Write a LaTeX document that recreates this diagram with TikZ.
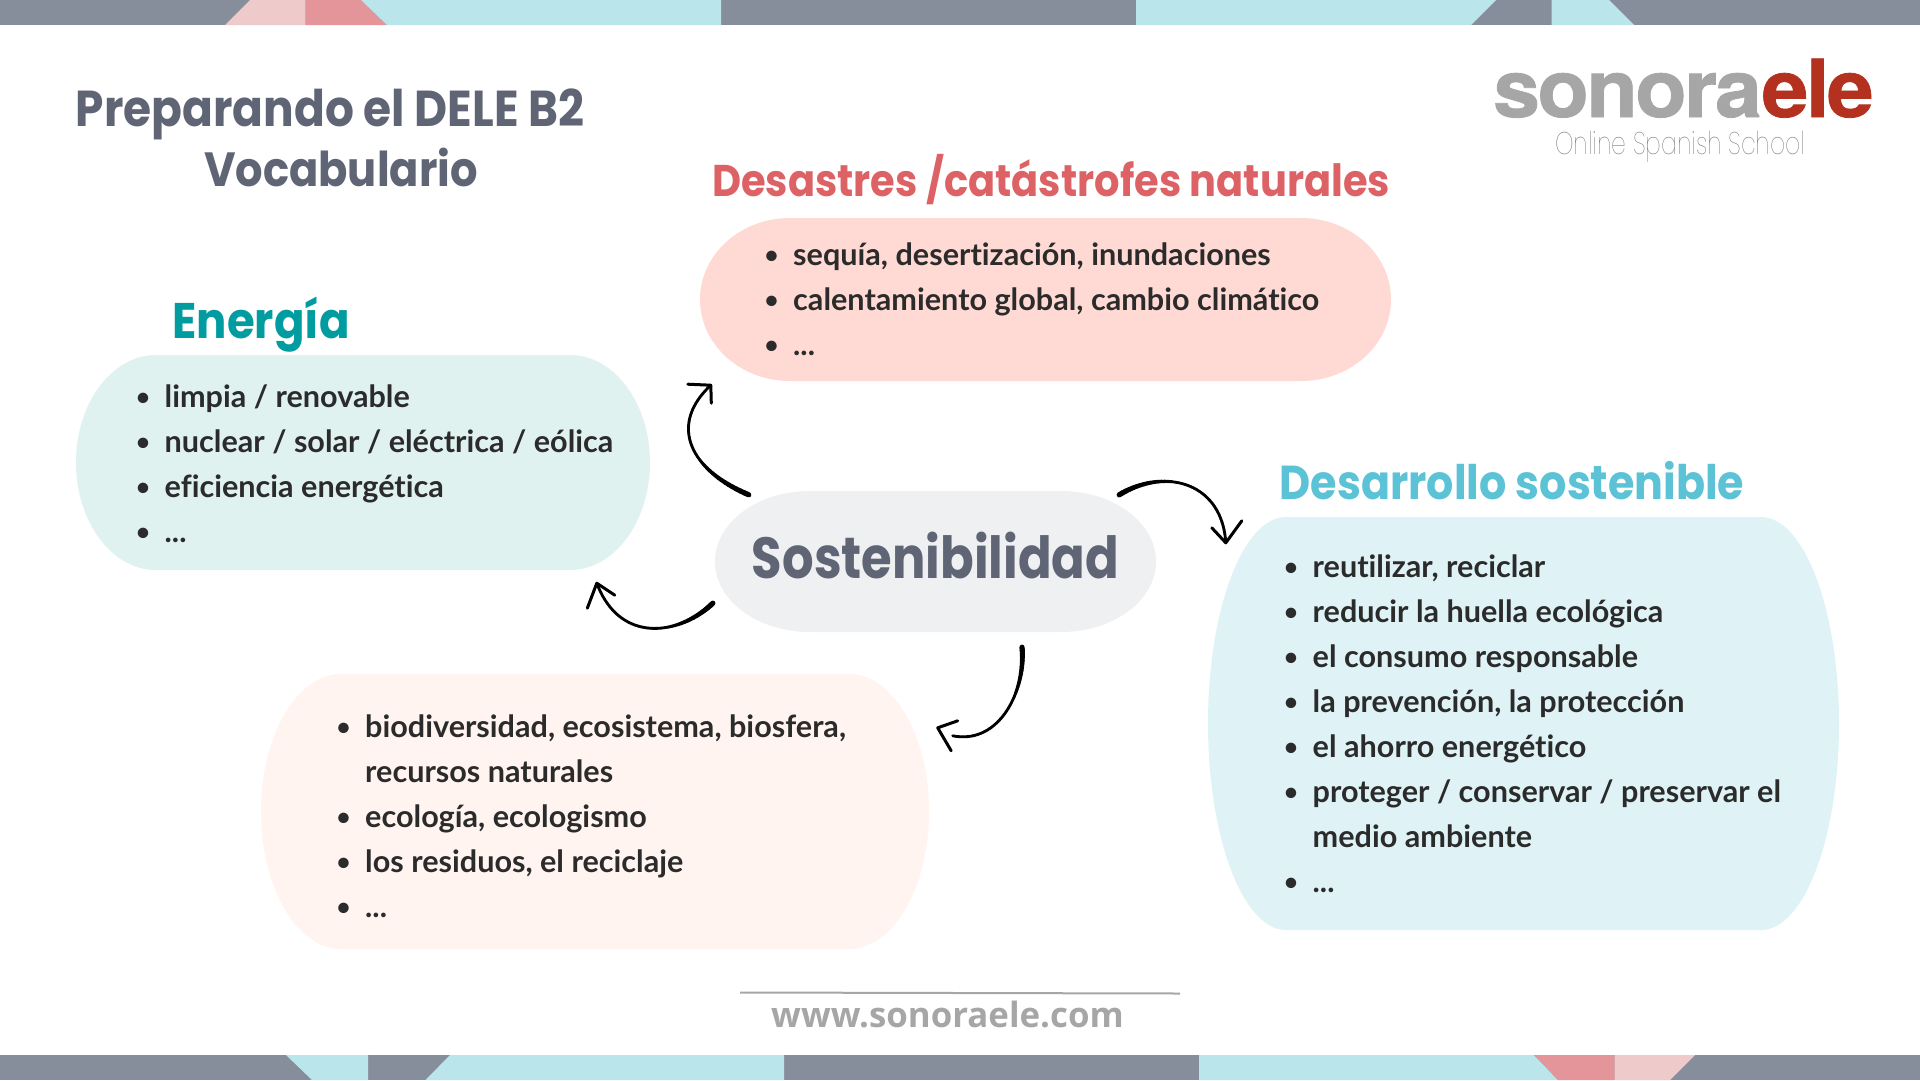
\documentclass[tikz,border=0pt]{standalone}
\usepackage{fontspec}
\usetikzlibrary{calc}
\setmainfont{Lato}
\newfontfamily\headf[FakeStretch=0.9]{Poppins}
\newfontfamily\sostf[FakeStretch=0.855]{Poppins}
\newfontfamily\listf[Ligatures=NoCommon]{Lato}
\newfontfamily\webf{Open Sans}
\newfontfamily\logof[LetterSpace=-3,FakeStretch=1.05,BoldFeatures={FakeBold=1}]{TeX Gyre Heros}
\newfontfamily\thinf[FakeStretch=0.75]{Poppins Thin}
\definecolor{bandgrey}{HTML}{868E9C}
\definecolor{bandcyan}{HTML}{B9E5EB}
\definecolor{bandpink}{HTML}{EFCACB}
\definecolor{bandred}{HTML}{E3959A}
\definecolor{titlegrey}{HTML}{5F6575}
\definecolor{enfill}{HTML}{DFF2F0}
\definecolor{dafill}{HTML}{FFD9D3}
\definecolor{sofill}{HTML}{EFF0F2}
\definecolor{defill}{HTML}{DFF3F6}
\definecolor{bifill}{HTML}{FFF4F0}
\definecolor{enhead}{HTML}{009C9F}
\definecolor{dahead}{HTML}{DD6265}
\definecolor{dehead}{HTML}{5CC2D5}
\definecolor{listink}{HTML}{2B2B2B}
\definecolor{webgrey}{HTML}{A6A6A6}
\definecolor{logored}{HTML}{B5311F}
\definecolor{schoolgrey}{HTML}{707070}
\newcommand{\blobshape}[7]{%
  \pgfmathsetmacro{\bry}{(#6-#4)/2}%
  \pgfmathsetmacro{\bkx}{0.5523*#7}%
  \pgfmathsetmacro{\bky}{0.5523*\bry}%
  \pgfmathsetmacro{\bxa}{#3+#7}\pgfmathsetmacro{\bxb}{#5-#7}%
  \pgfmathsetmacro{\bym}{#4+\bry}%
  \pgfmathsetmacro{\bcxa}{\bxa-\bkx}\pgfmathsetmacro{\bcxb}{\bxb+\bkx}%
  \pgfmathsetmacro{\bcya}{\bym-\bky}\pgfmathsetmacro{\bcyb}{\bym+\bky}%
  \fill[#2] (\bxa,#4) -- (\bxb,#4) .. controls (\bcxb,#4) and (#5,\bcya) .. (#5,\bym)
    .. controls (#5,\bcyb) and (\bcxb,#6) .. (\bxb,#6) -- (\bxa,#6)
    .. controls (\bcxa,#6) and (#3,\bcyb) .. (#3,\bym)
    .. controls (#3,\bcya) and (\bcxa,#4) .. (\bxa,#4) -- cycle;
  \pgfmathsetmacro{\bwid}{#5-#3}\pgfmathsetmacro{\bhei}{#6-#4}\pgfmathsetmacro{\bxm}{(#3+#5)/2}%
  \node[minimum width=\bwid pt,minimum height=\bhei pt,inner sep=0pt] (#1) at (\bxm,\bym) {};
}
% hand-drawn stroke: a Bezier from #1 to #4 via #2,#3, thick at its start and thinning out
\newcommand{\taper}[4]{%
  \coordinate (tp) at (#1);
  \foreach \i in {1,...,40}{%
    \pgfmathsetmacro{\tv}{\i/40}%
    \pgfmathsetmacro{\lwd}{2.8+2.6*max(0,1-\tv/0.4)}%
    \coordinate (qa) at ($(#1)!\tv!(#2)$);
    \coordinate (qb) at ($(#2)!\tv!(#3)$);
    \coordinate (qc) at ($(#3)!\tv!(#4)$);
    \coordinate (ra) at ($(qa)!\tv!(qb)$);
    \coordinate (rb) at ($(qb)!\tv!(qc)$);
    \coordinate (sp) at ($(ra)!\tv!(rb)$);
    \draw[line cap=round,line width=\lwd pt,black] (tp) -- (sp);
    \coordinate (tp) at (sp);
  }%
}
\newcommand{\bl}{\rule{0pt}{22pt}\makebox[27pt][l]{\hspace{-1.5pt}\raisebox{2pt}{\fontsize{24}{24}\selectfont •}}}
\newcommand{\blc}{\rule{0pt}{22pt}\hspace{27pt}}
\tikzset{
  x=1pt,y=-1pt,
  heading/.style={font=\headf\bfseries\selectfont,inner sep=0pt,anchor=base},
  vocab/.style={font=\listf\bfseries\fontsize{30.6}{45}\selectfont,text=listink,inner sep=0pt,anchor=north west,align=left},
  headstroke/.style={line width=3pt,line cap=round,line join=round,black},
}
\begin{document}
\begin{tikzpicture}
\useasboundingbox (0,0) rectangle (1920,1080);
\fill[white] (0,0) rectangle (1920,1080);
% top band
\fill[bandgrey] (0,0) rectangle (1920,25);
\fill[bandpink] (250,0) -- (305.5,0) -- (305.5,25) -- (225,25) -- cycle;
\fill[bandred] (305.5,0) -- (361,0) -- (387,25) -- (305.5,25) -- cycle;
\fill[bandcyan] (361,0) -- (721,0) -- (721,25) -- (387,25) -- cycle;
\fill[bandcyan] (1136,0) -- (1496,0) -- (1471,25) -- (1136,25) -- cycle;
\fill[bandcyan] (1551.5,0) -- (1609,0) -- (1634,25) -- (1551.5,25) -- cycle;
% bottom band
\fill[bandgrey] (0,1055) rectangle (1920,1080);
\fill[bandcyan] (286,1055) -- (368,1055) -- (368,1080) -- (312,1080) -- cycle;
\fill[bandcyan] (450,1055) -- (784,1055) -- (784,1080) -- (425.5,1080) -- cycle;
\fill[bandcyan] (1199,1055) -- (1534,1055) -- (1558,1080) -- (1199,1080) -- cycle;
\fill[bandred] (1534,1055) -- (1614.5,1055) -- (1614.5,1080) -- (1558,1080) -- cycle;
\fill[bandpink] (1614.5,1055) -- (1695,1055) -- (1670,1080) -- (1614.5,1080) -- cycle;
% blobs
\blobshape{energia}{enfill}{76}{355}{650}{570}{80}
\blobshape{desastres}{dafill}{700}{218}{1391}{381}{90}
\blobshape{sost}{sofill}{715}{491}{1156}{632}{95}
\blobshape{desarrollo}{defill}{1208}{517}{1839}{930}{78}
\blobshape{biodiv}{bifill}{261}{674}{929}{949}{80}
% title
\node[font=\headf\bfseries\fontsize{50.5}{60}\selectfont,text=titlegrey,inner sep=0pt,align=center,anchor=center] (titulo) at (341,138) {Preparando el DELE B2\hspace{22pt}\mbox{}\\\fontsize{48}{60}\selectfont Vocabulario};
% headings
\node[heading,text=dahead] (hdesastres) at (1051,196) {\fontsize{44.4}{44}\selectfont Desastres /catástrofes naturales};
\node[heading,text=enhead] (henergia) at (261,338) {\fontsize{50}{50}\selectfont Energía};
\node[heading,text=dehead] (hdesarrollo) at (1512,499) {\fontsize{47.6}{48}\selectfont Desarrollo sostenible};
\node[font=\sostf\bfseries\fontsize{58}{58}\selectfont,text=titlegrey,inner sep=0pt,anchor=base] (tsost) at (935.5,578.5) {Sostenibilidad};
% lists
\node[vocab] (lenergia) at (137.5,384.5) {\bl limpia / renovable\\\bl nuclear / solar / eléctrica / eólica\\\bl eficiencia energética\\\bl ...};
\node[vocab] (ldesastres) at (766,242.5) {\bl sequía, desertización, inundaciones\\\bl calentamiento global, cambio climático\\\bl ...};
\node[vocab] (ldesarrollo) at (1285.5,554.7) {\bl reutilizar, reciclar\\\bl reducir la huella ecológica\\\bl el consumo responsable\\\bl la prevención, la protección\\\bl el ahorro energético\\\bl proteger / conservar / preservar el\\\blc medio ambiente\\\bl ...};
\node[vocab] (lbiodiv) at (338,714.5) {\bl biodiversidad, ecosistema, biosfera,\\\blc recursos naturales\\\bl ecología, ecologismo\\\bl los residuos, el reciclaje\\\bl ...};
% connectors
\coordinate (a1s) at ($(sost.north west)+(34,4)$);
\coordinate (a1b) at (690,470);
\coordinate (a1c) at (668,425);
\coordinate (a1e) at ($(desastres.south west)+(11,4)$);
\coordinate (a1l) at ($(desastres.south west)+(-12,3)$);
\coordinate (a1r) at ($(desastres.south west)+(11.5,22)$);
\taper{a1s}{a1b}{a1c}{a1e}
\draw[headstroke] (a1l) -- (a1e) -- (a1r);
\coordinate (a2s) at ($(sost.south west)+(-2,-29)$);
\coordinate (a2b) at (680,635);
\coordinate (a2c) at (620,645);
\coordinate (a2e) at ($(energia.south west)+(521,13)$);
\coordinate (a2l) at ($(energia.south west)+(511.5,38)$);
\coordinate (a2r) at ($(energia.south west)+(539,25)$);
\taper{a2s}{a2b}{a2c}{a2e}
\draw[headstroke] (a2l) -- (a2e) -- (a2r);
\coordinate (a3s) at ($(sost.north east)+(-37,4)$);
\coordinate (a3b) at (1165,467);
\coordinate (a3c) at (1222,482);
\coordinate (a3e) at ($(desarrollo.north west)+(18,26)$);
\coordinate (a3l) at ($(desarrollo.north west)+(4,11)$);
\coordinate (a3r) at ($(desarrollo.north west)+(34,4)$);
\taper{a3s}{a3b}{a3c}{a3e}
\draw[headstroke] (a3l) -- (a3e) -- (a3r);
\coordinate (a4s) at ($(sost.south)+(86.5,15)$);
\coordinate (a4b) at (1026,690);
\coordinate (a4c) at (1000,745);
\coordinate (a4t) at ($(biodiv.north east)+(23.5,62)$);
\coordinate (a4e) at ($(biodiv.north east)+(8.5,54)$);
\coordinate (a4l) at ($(biodiv.north east)+(28.5,47)$);
\coordinate (a4r) at ($(biodiv.north east)+(22,77)$);
\taper{a4s}{a4b}{a4c}{a4t}
\draw[headstroke] (a4l) -- (a4e) -- (a4r);
% logo
\node[font=\logof\bfseries\fontsize{80}{80}\selectfont,inner sep=0pt,anchor=base west] (logo) at (1493,117) {\textcolor{webgrey}{sonora}\textcolor{logored}{ele}};
\node[font=\thinf\fontsize{31.3}{31}\selectfont,text=schoolgrey,inner sep=0pt,anchor=base west] (escuela) at (1555,154) {Online Spanish School};
% footer
\coordinate (fl) at (740,992.5);
\coordinate (fr) at (1180,993.5);
\draw[line width=2pt,color=webgrey] (fl) -- (fr);
\node[font=\webf\bfseries\fontsize{34.8}{35}\selectfont,text=webgrey,inner sep=0pt,anchor=base] (web) at (947.5,1027.5) {www.sonoraele.com};
\end{tikzpicture}
\end{document}
